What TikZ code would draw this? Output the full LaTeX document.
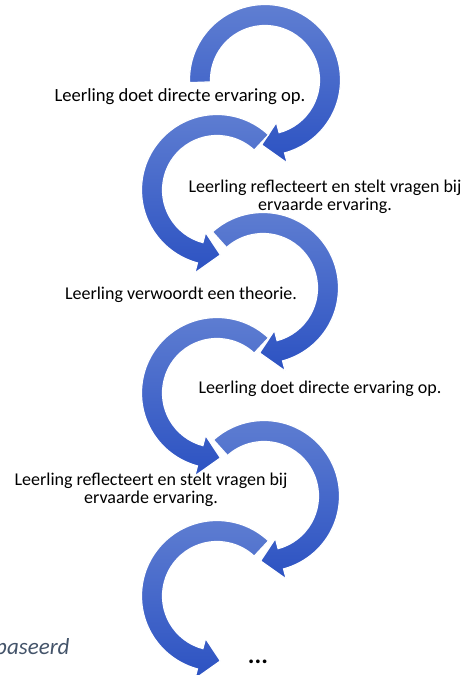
\documentclass[tikz,border=0pt]{standalone}
\usepackage{fontspec}
\setmainfont{Carlito}
\definecolor{bandtop}{RGB}{96,127,210}
\definecolor{bandbot}{RGB}{44,82,194}
\definecolor{notegray}{RGB}{68,84,106}
\begin{document}
\begin{tikzpicture}[x=1pt,y=1pt,
  band/.style={top color=bandtop, bottom color=bandbot, draw=white, line width=1.2pt, line join=miter},
  steptext/.style={font=\fontsize{18}{18}\selectfont, inner sep=0pt, align=center, text=black},
  % curved arrow: outer band from the start angle, clockwise down to the head
  pics/loop/.style={code={
    \path[band] (#1:75.5pt) arc[start angle=#1, end angle=-75, radius=75.5pt]
      -- (-75:86pt) -- (-93:65pt) -- (-75:44pt) -- (-75:54.5pt)
      arc[start angle=-75, end angle=#1, radius=54.5pt] -- cycle;
  }}
]
\useasboundingbox (0,0) rectangle (465,675);
\fill[white] (0,0) rectangle (465,675);

% loops bending right, and mirrored loops bending left
\pic at (265,595) {loop=182};
\pic[xscale=-1] at (217,485) {loop=133};
\pic at (263,387) {loop=132};
\pic[xscale=-1] at (217,282) {loop=133};
\pic at (264,179) {loop=132};
\pic[xscale=-1] at (217,79) {loop=133};

% step labels
\node[steptext, font=\fontsize{18.6}{18.6}\selectfont, anchor=base] (s1) at (180,573.5) {Leerling doet directe ervaring op.};
\node[steptext] (s2) at (325,478.5) {Leerling reflecteert en stelt vragen bij\\ervaarde ervaring.};
\node[steptext, anchor=base] (s3) at (181,375) {Leerling verwoordt een theorie.};
\node[steptext, anchor=base] (s4) at (320,281) {Leerling doet directe ervaring op.};
\node[steptext] (s5) at (151,185.5) {Leerling reflecteert en stelt vragen bij\\ervaarde ervaring.};
\node[steptext, font=\fontsize{25}{25}\selectfont\bfseries, anchor=base] (s6) at (258,12) {...};
\node[inner sep=0pt, anchor=base west, font=\fontsize{23}{23}\selectfont\itshape, text=notegray] (note) at (-5,20) {baseerd};
\end{tikzpicture}
\end{document}
